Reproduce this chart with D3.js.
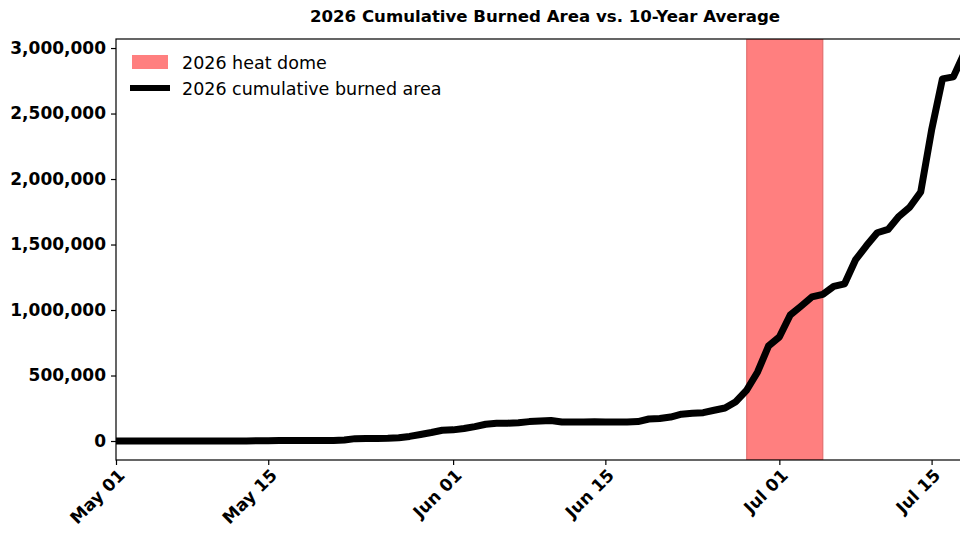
<!DOCTYPE html>
<html><head><meta charset="utf-8">
<script src="https://cdn.jsdelivr.net/npm/d3@7"></script>
<style>body{margin:0;background:#fff}svg{font-family:"DejaVu Sans",sans-serif}</style>
</head><body><svg id="c" width="960" height="540"></svg>
<script>
const startDate = "2026-05-01";
const burned = [0,0,0,0,0,0,0,0,0,0,0,0,0,2000,2000,3000,3000,3000,3000,3000,
4000,8000,18000,20000,20000,21000,25000,35000,50000,65000,82000,85000,95000,110000,128000,135000,136000,140000,148000,152000,
157000,145000,145000,146000,147000,146000,145000,145000,148000,168000,172000,183000,205000,212000,216000,235000,252000,300000,389000,527000,
725000,794000,962000,1030000,1100000,1120000,1180000,1200000,1382000,1490000,1590000,1615000,1715000,1786000,1901000,2374000,2765000,2780000,2960000];
const heatDome = ["2026-06-28","2026-07-05"];
const yTicks = [0,500000,1000000,1500000,2000000,2500000,3000000];
const xTickDates = ["2026-05-01","2026-05-15","2026-06-01","2026-06-15","2026-07-01","2026-07-15"];
const title = "2026 Cumulative Burned Area vs. 10-Year Average";

const p = d3.utcParse("%Y-%m-%d");
const t0 = p(startDate);
const DAY = 86400000;
const data = burned.map((v,i)=>({d:new Date(+t0+i*DAY),v}));
const svg = d3.select("#c");
const L=116,T=39,R=974,B=460;
const x = d3.scaleUtc().domain([t0, new Date(+t0+78.9*DAY)]).range([L,R]);
const y = d3.scaleLinear().domain([-145000,3069000]).range([B,T]);
svg.append("clipPath").attr("id","pc").append("rect").attr("x",L).attr("y",T).attr("width",R-L).attr("height",B-T);
const g = svg.append("g").attr("clip-path","url(#pc)");
g.append("rect").attr("x",x(p(heatDome[0]))).attr("width",x(p(heatDome[1]))-x(p(heatDome[0])))
 .attr("y",T).attr("height",B-T).attr("fill","#ff7f7f").attr("stroke","#d66").attr("stroke-width",1);
g.append("path").datum(data).attr("fill","none").attr("stroke","#000").attr("stroke-width",7).attr("stroke-linejoin","round")
 .attr("d",d3.line().x(d=>x(d.d)).y(d=>y(d.v)));
const fmt=d3.format(",");
const ya=svg.append("g").attr("transform",`translate(${L},0)`).call(d3.axisLeft(y).tickValues(yTicks).tickFormat(fmt).tickSize(5).tickPadding(5));
ya.selectAll("text").attr("font-size",17).attr("font-weight","bold").attr("fill","#000").attr("font-family","DejaVu Sans");
const xa=svg.append("g").attr("transform",`translate(0,${B})`).call(d3.axisBottom(x).tickValues(xTickDates.map(p)).tickFormat(d3.utcFormat("%b %d")).tickSize(5));
xa.selectAll("text").attr("font-size",17).attr("font-weight","bold").attr("fill","#000").attr("font-family","DejaVu Sans")
 .attr("text-anchor","end").attr("transform","rotate(-45)").attr("dx","-0.3em").attr("dy","0.6em");
[ya,xa].forEach(a=>{a.select(".domain").remove();a.selectAll("line").attr("stroke","#000").attr("stroke-width",1.2);});
svg.append("rect").attr("x",L).attr("y",T).attr("width",R-L).attr("height",B-T).attr("fill","none").attr("stroke","#000").attr("stroke-width",1.2);
svg.append("text").attr("x",545).attr("y",22).attr("text-anchor","middle").attr("font-size",16.6).attr("font-weight","bold").text(title);
svg.append("text").attr("transform","rotate(-90)").attr("x",-200).attr("y",-3).attr("text-anchor","middle").attr("font-size",17).attr("font-weight","bold").text("Cumulative burned area (acres)");
const lg=svg.append("g");
lg.append("rect").attr("x",132).attr("y",55).attr("width",36).attr("height",14).attr("fill","#ff7f7f");
lg.append("text").attr("x",182).attr("y",69).attr("font-size",17.5).text("2026 heat dome");
lg.append("line").attr("x1",130).attr("x2",170).attr("y1",88).attr("y2",88).attr("stroke","#000").attr("stroke-width",6);
lg.append("text").attr("x",182).attr("y",95).attr("font-size",17.5).text("2026 cumulative burned area");
</script></body></html>
